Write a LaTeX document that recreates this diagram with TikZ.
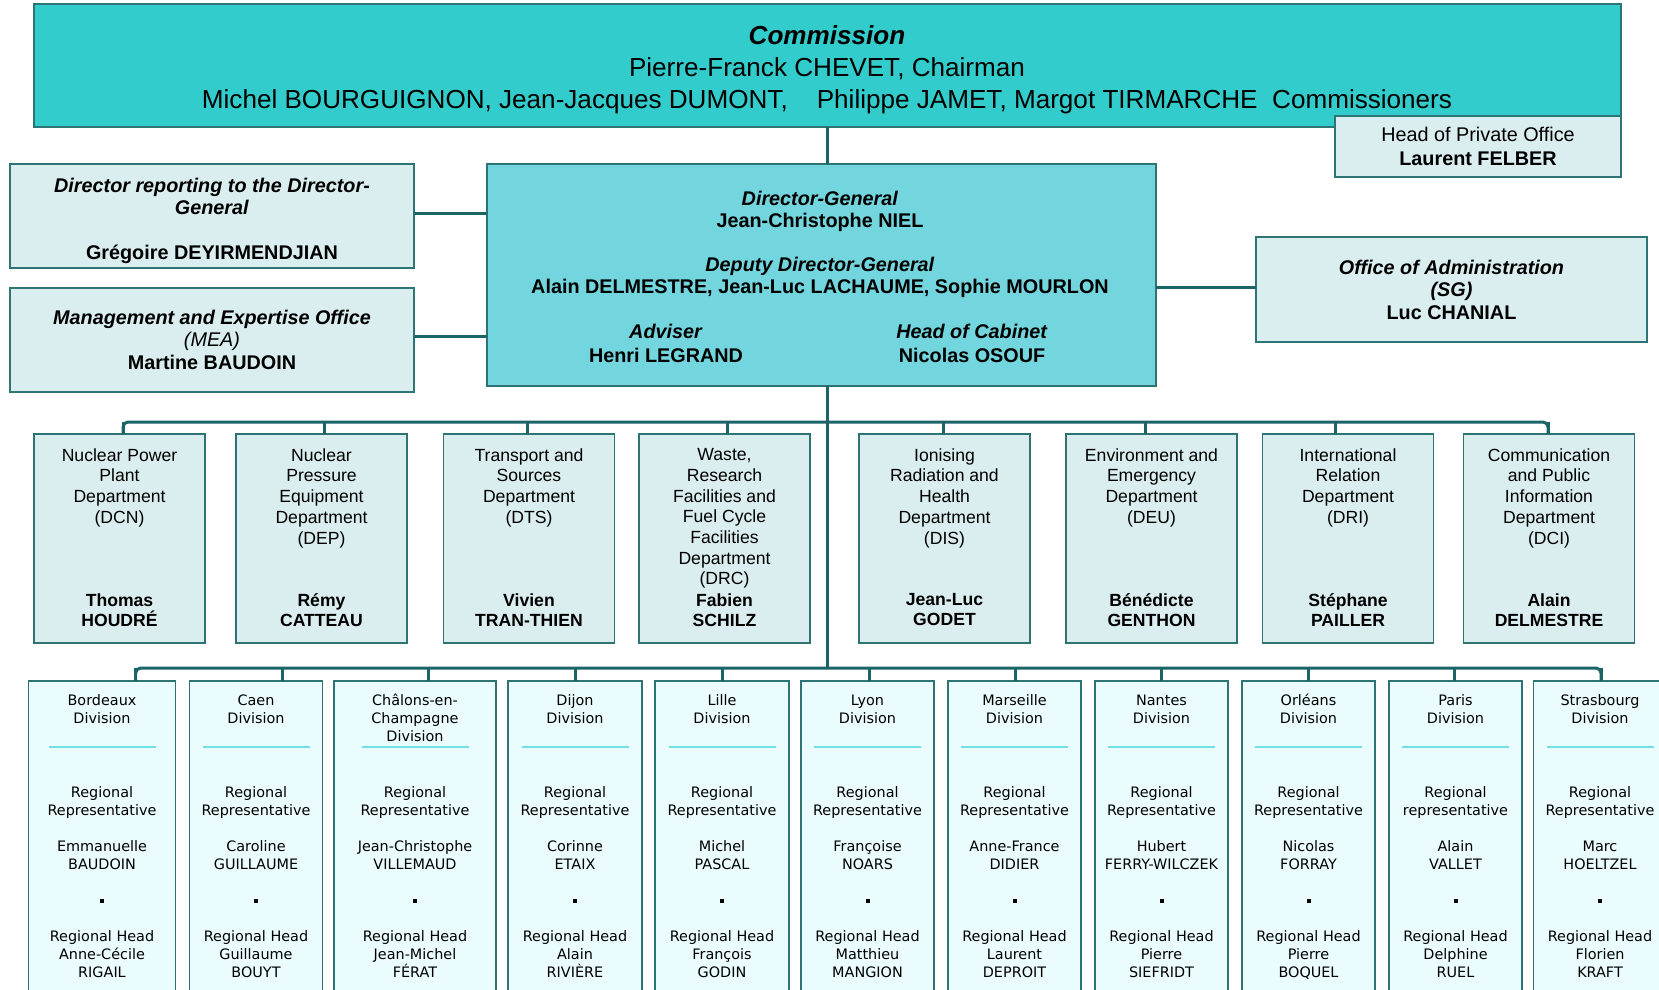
\documentclass[tikz,border=0pt]{standalone}
\usepackage{fontspec}
\setmainfont{Liberation Sans}
\newfontfamily\divfont{DejaVu Sans}
\definecolor{commc}{HTML}{33CCCC}
\definecolor{dgc}{HTML}{73D5DD}
\definecolor{sidec}{HTML}{DAEDEF}
\definecolor{divc}{HTML}{EAFCFD}
\definecolor{sepc}{HTML}{6FE0E3}
\definecolor{connc}{HTML}{1B6567}
\definecolor{bordc}{HTML}{2F7475}
\tikzset{
  conn/.style={draw=connc, line width=1.5pt},
  bx/.style 2 args={draw=bordc, line width=0.7pt, minimum width=#1*0.5pt, minimum height=#2*0.5pt, inner sep=0pt, outer sep=0pt},
  txt/.style={align=center, inner sep=0pt, outer sep=0pt, text=black, anchor=north},
  sepl/.style={draw=sepc, line width=0.8pt},
  deptxt/.style={txt, font=\fontsize{8.8}{10.35}\selectfont},
  depname/.style={txt, font=\bfseries\fontsize{8.8}{10}\selectfont},
  divtxt/.style={txt, font=\divfont\fontsize{7.2}{9}\selectfont},
  bigtxt/.style={txt, font=\fontsize{9.9}{11}\selectfont}
}
\begin{document}
\begin{tikzpicture}[x=0.5pt,y=-0.5pt]
\useasboundingbox (0,0) rectangle (1659,990);
\clip (0,0) rectangle (1659,990);
\fill[white] (0,0) rectangle (1659,990);

% top boxes
\node[bx={1587}{123}, fill=commc] (comm) at (827.5,65.5) {};
\node[bx={286}{61}, fill=sidec] (hpo) at (1478,146.5) {};
\node[bx={404}{104}, fill=sidec] (dr) at (212,216) {};
\node[bx={404}{104}, fill=sidec] (mea) at (212,340) {};
\node[bx={669}{222}, fill=dgc] (dg) at (821.5,275) {};
\node[bx={391}{105}, fill=sidec] (sg) at (1451.5,289.5) {};

% texts of top boxes
\node[txt, font=\fontsize{13.05}{16}\selectfont] (commtxt) at (827,25.5)
  {\textbf{\textit{Commission}}\\Pierre-Franck CHEVET, Chairman\\Michel BOURGUIGNON, Jean-Jacques DUMONT,\ \ \ \ Philippe JAMET, Margot TIRMARCHE\ \ Commissioners};
\node[bigtxt, font=\fontsize{9.9}{12}\selectfont] (hpotxt) at (1478,126.7)
  {Head of Private Office\\\textbf{Laurent FELBER}};
\node[bigtxt] (drtxt) at (212,177.7)
  {\textbf{\textit{Director reporting to the Director-}}\\\textbf{\textit{General}}\\[11.5pt]\textbf{Grégoire DEYIRMENDJIAN}};
\node[bigtxt, font=\fontsize{9.9}{11.25}\selectfont] (meatxt) at (212,309.7)
  {\textbf{\textit{Management and Expertise Office}}\\\textit{(MEA)}\\\textbf{Martine BAUDOIN}};
\node[bigtxt, font=\fontsize{9.9}{11.25}\selectfont] (sgtxt) at (1451.5,259.7)
  {\textbf{\textit{Office of Administration}}\\\textbf{\textit{(SG)}}\\\textbf{Luc CHANIAL}};
\node[bigtxt] (dgtxt) at (820,190.7)
  {\textbf{\textit{Director-General}}\\\textbf{Jean-Christophe NIEL}\\[11pt]\textbf{\textit{Deputy Director-General}}\\\textbf{Alain DELMESTRE, Jean-Luc LACHAUME, Sophie MOURLON}};
\node[bigtxt, font=\fontsize{9.9}{12}\selectfont] (advtxt) at (666,323.7)
  {\textbf{\textit{Adviser}}\\\textbf{Henri LEGRAND}};
\node[bigtxt, font=\fontsize{9.9}{12}\selectfont] (cabtxt) at (972,323.7)
  {\textbf{\textit{Head of Cabinet}}\\\textbf{Nicolas OSOUF}};

% connectors of top part
\draw[conn] (comm.south) -- (comm.south |- dg.north);
\draw[conn] ([yshift=1.5pt]dr.east) -- ([yshift=1.5pt]dr.east -| dg.west);
\draw[conn] ([yshift=2pt]mea.east) -- ([yshift=2pt]mea.east -| dg.west);
\draw[conn] ([yshift=1.25pt]sg.west) -- ([yshift=1.25pt]sg.west -| dg.east);

% departments
\coordinate (depbus) at (827.5,422);
\coordinate (divbus) at (827.5,668);
\foreach \i/\cx/\sx/\ttl/\nm in {
  1/119.5/123/{Nuclear Power\\Plant\\Department\\(DCN)}/{Thomas\\HOUDRÉ},
  2/321.5/324/{Nuclear\\Pressure\\Equipment\\Department\\(DEP)}/{Rémy\\CATTEAU},
  3/529/527/{Transport and\\Sources\\Department\\(DTS)}/{Vivien\\TRAN-THIEN},
  4/724.5/727/{Waste,\\Research\\Facilities and\\Fuel Cycle\\Facilities\\Department\\(DRC)}/{Fabien\\SCHILZ},
  5/944.5/943/{Ionising\\Radiation and\\Health\\Department\\(DIS)}/{Jean-Luc\\GODET},
  6/1151.5/1145/{Environment and\\Emergency\\Department\\(DEU)}/{Bénédicte\\GENTHON},
  7/1348/1335/{International\\Relation\\Department\\(DRI)}/{Stéphane\\PAILLER},
  8/1549/1548/{Communication\\and Public\\Information\\Department\\(DCI)}/{Alain\\DELMESTRE}}{
  \node[bx={171}{209}, fill=sidec] (dep\i) at (\cx,538.5) {};
  \node[deptxt] (dept\i) at (\cx,448.5) {\ttl};
  \node[depname] (depn\i) at (\cx,593.5) {\nm};
  \draw[conn] ([xshift={(\sx-\cx)*0.5pt}]dep\i.north) -- ++(0,-12);
}
\draw[conn, rounded corners=2.5pt] ([xshift=1.75pt]dep1.north) |- (depbus) -| ([xshift=-0.5pt]dep8.north);

% divisions
\foreach \i/\cx/\w/\sx/\ttl/\rr/\rep/\hd in {
  1/102/147/135.7/{Bordeaux\\Division}/Representative/{Emmanuelle\\BAUDOIN}/{Anne-Cécile\\RIGAIL},
  2/256/133/282/{Caen\\Division}/Representative/{Caroline\\GUILLAUME}/{Guillaume\\BOUYT},
  3/415/162/428.6/{Châlons-en-\\Champagne\\Division}/Representative/{Jean-Christophe\\VILLEMAUD}/{Jean-Michel\\FÉRAT},
  4/575/134/575/{Dijon\\Division}/Representative/{Corinne\\ETAIX}/{Alain\\RIVIÈRE},
  5/722/134/722.5/{Lille\\Division}/Representative/{Michel\\PASCAL}/{François\\GODIN},
  6/867.5/133/869/{Lyon\\Division}/Representative/{Françoise\\NOARS}/{Matthieu\\MANGION},
  7/1014.5/133/1015/{Marseille\\Division}/Representative/{Anne-France\\DIDIER}/{Laurent\\DEPROIT},
  8/1161.5/133/1161/{Nantes\\Division}/Representative/{Hubert\\FERRY-WILCZEK}/{Pierre\\SIEFRIDT},
  9/1308.5/133/1308.5/{Orléans\\Division}/Representative/{Nicolas\\FORRAY}/{Pierre\\BOQUEL},
  10/1455.5/133/1454/{Paris\\Division}/representative/{Alain\\VALLET}/{Delphine\\RUEL},
  11/1600/133/1601/{Strasbourg\\Division}/Representative/{Marc\\HOELTZEL}/{Florien\\KRAFT}}{
  \node[bx={\w}{319}, fill=divc] (div\i) at (\cx,840.5) {};
  \draw[sepl] (\cx-53.5,747) -- (\cx+53.5,747);
  \node[divtxt] (divt\i) at (\cx,694.3) {\vphantom{d}\ttl};
  \node[divtxt] (divb\i) at (\cx,786.3)
    {Regional\\\rr\\[9pt]\rep\\[9pt]\raisebox{1.3pt}{\rule{2pt}{2pt}}\\[9pt]Regional Head\\\hd};
  \draw[conn] ([xshift={(\sx-\cx)*0.5pt}]div\i.north) -- ++(0,-13);
}
\draw[conn, rounded corners=2.5pt] ([xshift=16.85pt]div1.north) |- (divbus) -| ([xshift=0.5pt]div11.north);

% spine
\draw[conn] (comm.south |- dg.south) -- (divbus);
\end{tikzpicture}
\end{document}
